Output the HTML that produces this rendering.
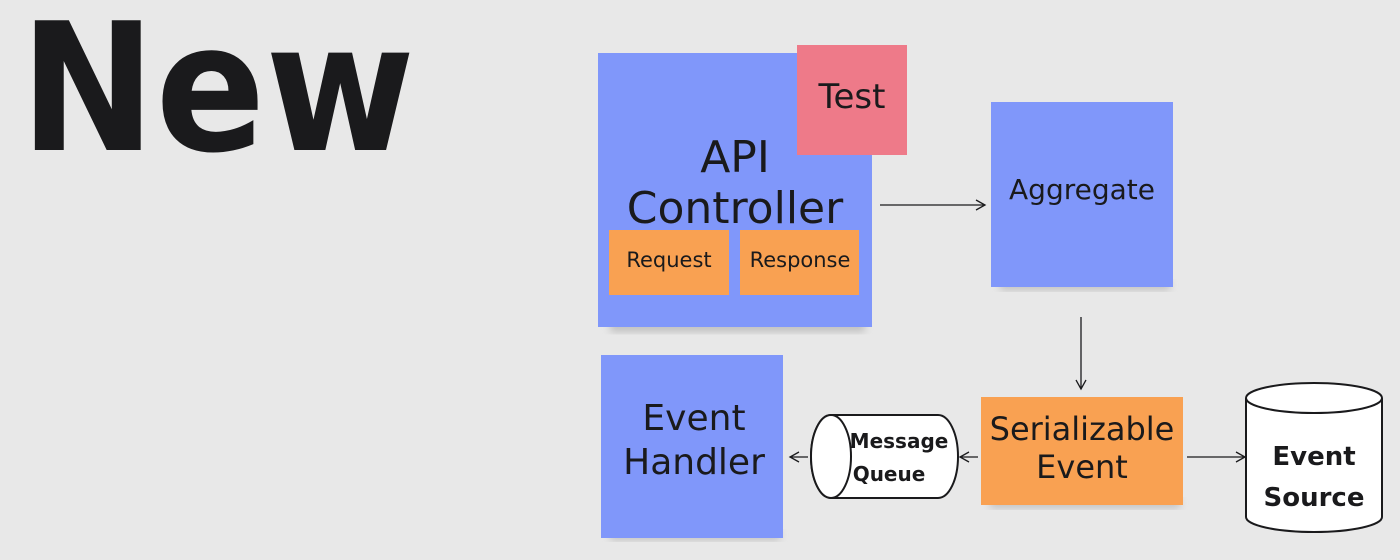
<!DOCTYPE html>
<html><head><meta charset="utf-8"><style>
html,body{margin:0;padding:0;background:#e8e8e8;}
svg{display:block;}
text{font-family:"DejaVu Sans","Liberation Sans",sans-serif;fill:#1a1a1c;}
</style></head><body>
<svg width="1400" height="560" viewBox="0 0 1400 560" xmlns="http://www.w3.org/2000/svg">
<defs>
<filter id="sh" x="-10%" y="-10%" width="120%" height="130%"><feGaussianBlur stdDeviation="4"/></filter>
<marker id="ah" markerWidth="12" markerHeight="12" refX="10" refY="6" orient="auto" markerUnits="userSpaceOnUse"><path d="M1,1 L10,6 L1,11" fill="none" stroke="#1a1a1c" stroke-width="1.3"/></marker>
</defs>
<rect width="1400" height="560" fill="#e8e8e8"/>
<text x="20" y="150" font-weight="bold" font-size="178" textLength="395" lengthAdjust="spacingAndGlyphs">New</text>

<rect x="610" y="320" width="255" height="12" fill="#999" opacity=".5" filter="url(#sh)"/>
<rect x="1000" y="280" width="170" height="10" fill="#999" opacity=".5" filter="url(#sh)"/>
<rect x="610" y="530" width="170" height="10" fill="#999" opacity=".5" filter="url(#sh)"/>
<rect x="990" y="498" width="190" height="10" fill="#999" opacity=".5" filter="url(#sh)"/>

<rect x="598" y="53" width="274" height="274" fill="#8097fa"/>
<rect x="797" y="45" width="110" height="110" fill="#ee7a89"/>
<text x="852" y="108" font-size="34" text-anchor="middle">Test</text>
<text x="735" y="172" font-size="44" text-anchor="middle">API</text>
<text x="735" y="223" font-size="44" text-anchor="middle">Controller</text>
<rect x="609" y="230" width="120" height="65" fill="#f9a152"/>
<rect x="740" y="230" width="119" height="65" fill="#f9a152"/>
<text x="669" y="267" font-size="21" text-anchor="middle">Request</text>
<text x="800" y="267" font-size="21" text-anchor="middle">Response</text>

<rect x="991" y="102" width="182" height="185" fill="#8097fa"/>
<text x="1082" y="199" font-size="28" text-anchor="middle">Aggregate</text>

<rect x="601" y="355" width="182" height="183" fill="#8097fa"/>
<text x="694" y="430" font-size="36" text-anchor="middle">Event</text>
<text x="694" y="474" font-size="36" text-anchor="middle">Handler</text>

<rect x="981" y="397" width="202" height="108" fill="#f9a152"/>
<text x="1082" y="440" font-size="32" text-anchor="middle">Serializable</text>
<text x="1082" y="478" font-size="32" text-anchor="middle">Event</text>

<g fill="none" stroke="#1a1a1c" stroke-width="2">
<path d="M831,415 L938,415 A20,41.5 0 0 1 938,498 L831,498 A20,41.5 0 0 1 831,415 Z" fill="#fff"/>
<ellipse cx="831" cy="456.5" rx="20" ry="41.5" fill="#fff"/>
</g>
<text x="899" y="448" font-size="20" font-weight="bold" text-anchor="middle">Message</text>
<text x="889" y="481" font-size="20" font-weight="bold" text-anchor="middle">Queue</text>

<g fill="none" stroke="#1a1a1c" stroke-width="2">
<path d="M1246,398 L1246,517 A68,15 0 0 0 1382,517 L1382,398" fill="#fff"/>
<ellipse cx="1314" cy="398" rx="68" ry="15" fill="#fff"/>
</g>
<text x="1314" y="465" font-size="26" font-weight="bold" text-anchor="middle">Event</text>
<text x="1314" y="506" font-size="26" font-weight="bold" text-anchor="middle">Source</text>

<g stroke="#1a1a1c" stroke-width="1.3" marker-end="url(#ah)">
<line x1="880" y1="205" x2="985" y2="205"/>
<line x1="1081" y1="317" x2="1081" y2="389"/>
<line x1="978" y1="457" x2="960" y2="457"/>
<line x1="808" y1="457" x2="790" y2="457"/>
<line x1="1187" y1="457" x2="1245" y2="457"/>
</g>
</svg>
</body></html>
